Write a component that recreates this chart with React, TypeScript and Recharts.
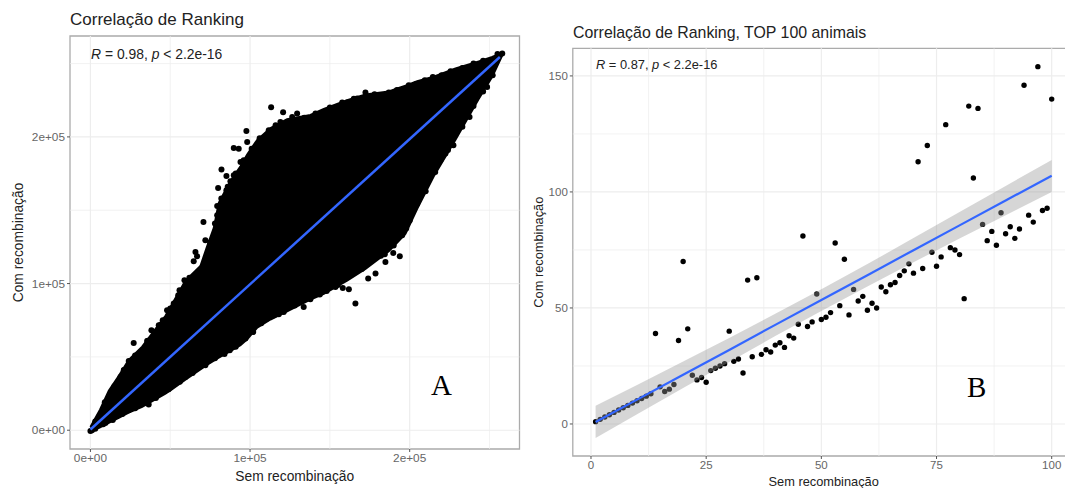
import React from "react";
import { ComposedChart, Scatter, Line, Area, XAxis, YAxis, ReferenceLine, ReferenceArea } from "recharts";

// ---- Chart A (all values in thousands of ranks) ----
const cloudX = [0,6,11.5,17.7,24,32.4,40.7,47,51.2,59.5,68.9,73,77.3,80.4,87.7,94,98.2,104.5,112.8,123.2,137.8,146.2,160.8,172.3,186.9,192.2,197.4,204.7,215,228.7,243.3,251.7,258];
const cloudLow = [-1.2,2,5,8.5,12,16,21,25,28,34.5,41.5,44.5,47.5,49.5,54,58,62,70,75.5,81,89,93,102,110,122,128,134,151,173,198,226,241,255.6];
const cloudHigh = [2.2,14,27,37,48,57,69,78,86,102,112,125,138,155,170,180,188,198,206,212,215,219,225,229,231,233,235,238,241,246.6,251.5,254.5,257.5];
const edgeDots: [number, number][] = [[27.1,59.5],[35.5,60.9],[38.2,68.2],[24,47.2],[20.9,40.9],[18.8,36.3],[13.2,25.4],[42.8,71.6],[48,81.8],[45.3,75],[55.8,95.4],[58.9,102.2],[52.2,86.4],[64.7,115.2],[66.8,118.6],[65.8,121.5],[70.8,142],[72,129.5],[36.5,17.5],[87.3,54.5],[72,44.3],[113.2,220.2],[120.7,216.8],[129.5,215.9],[126.4,213.6],[119,210.2],[97.7,204],[98.2,196.5],[89.8,192.4],[92.9,192],[82.1,177.7],[89.8,173.8],[85.2,173.4],[87.7,169.7],[80,165.2],[85.2,163.6],[79.4,152.9],[83.5,153.9],[79.4,146.6],[79.4,139.7],[94,182.9],[94,176],[104.5,194.3],[111.7,204.5],[108.6,197.7],[141,215.9],[146.2,217],[154.6,220.4],[157.7,223.4],[172.3,230.2],[167.1,226.1],[160.8,223.4],[186.9,230.2],[199.4,235.2],[209.5,238.6],[214.5,240.8],[225.6,244.7],[237.5,213.6],[227.4,194.3],[248.5,234],[222.4,188.6],[219.3,184],[207.4,162.4],[204.7,154.5],[202.6,151.1],[197.4,143.2],[197.8,137.5],[97.1,62.5],[110.7,76.1],[114.9,78.4],[121.1,80.6],[133.6,84],[137.8,89.3],[143.7,92.5],[153.5,97.7],[158.1,97],[161.9,96.1],[166,86.4],[174,103.4],[178.6,106.8],[184.8,114.7],[184.4,120],[189.7,120.9],[193.8,118.6],[195.3,132.9],[198,143.2],[167.1,110.2],[162.5,106.1],[44.9,28.4],[59.5,36.3],[53.3,31.8],[24,13.6],[9.4,5],[255,256.5],[258,256.8],[0,-0.5],[1,0]];
const upperBumps: [number, number][] = [[3,6],[9,19],[15,30],[21,41],[28,51],[36,61],[44,72],[50,83],[55,92],[62,104],[70,111],[75,128],[78,141],[82,158],[86,166],[91,175],[96,184],[101,192],[106,199],[116,208],[134,213],[150,220],[165,226],[178,229],[192,232],[204,236],[220,242],[233,247],[240,250],[246,252]];
const lowerBumps: [number, number][] = [[3,1],[8,4],[14,7],[20,11],[28,15],[41,22],[49,28],[56,33],[64,39],[78,49],[84,52],[91,57],[102,67],[107,73],[118,79],[128,85],[148,95],[155,99],[170,110],[182,119],[190,126],[200,143],[210,163],[216,176],[224,191],[233,207],[240,221],[246,231],[252,242]];
const fitA: [number, number][] = [[0,0.5],[256.5,254.5]];
const ticksA = [0, 100000, 200000];
const minorA = [50000, 150000, 250000];
const tickLabelsA = ["0e+00", "1e+05", "2e+05"];
const domainA: [number, number] = [-12800, 268800];

// ---- Chart B ----
const rankCom = [1,2,3,4,5,6,7,8,9,10,11,12,13,39,16,14,15,17,36,70,41,21,19,20,18,23,24,25,26,40,27,28,22,62,29,63,30,32,31,34,35,33,38,37,43,81,42,44,56,45,46,48,78,51,71,47,58,53,55,49,52,50,59,57,60,61,64,66,69,65,113,67,120,74,68,72,129,76,75,73,54,137,106,136,86,79,83,77,91,82,85,80,84,146,90,87,154,92,93,140];
const fitX = [1,10,20,30,40,50,60,70,80,90,100];
const fitY = [0.85,10.5,21.2,31.9,42.7,53.4,64.1,74.9,85.6,96.3,107];
const bandLow = [-6,4.2,15.5,26.7,37.9,48.7,59.3,69.7,79.9,90,100];
const bandHigh = [7.9,16.8,26.9,37.1,47.5,58.1,68.9,80.1,91.3,102.6,113.8];
const ticksBX = [0, 25, 50, 75, 100];
const ticksBY = [0, 50, 100, 150];
const minorBX = [12.5, 37.5, 62.5, 87.5];
const minorBY = [25, 75, 125];
const domainBX: [number, number] = [-3.95, 104.95];
const domainBY: [number, number] = [-13.8, 161.9];

const titleA = "Correlação de Ranking";
const titleB = "Correlação de Ranking, TOP 100 animais";
const xTitle = "Sem recombinação";
const yTitle = "Com recombinação";

const k = (v: number) => v * 1000;
const pts = (a: [number, number][]) => a.map(([x, y]) => ({ x: k(x), y: k(y) }));
const cloudRows = cloudX.map((x, i) => ({ x: k(x), band: [k(cloudLow[i]), k(cloudHigh[i])] }));
const scatterA = [...pts(edgeDots), ...pts(upperBumps), ...pts(lowerBumps)];
const fitARows = pts(fitA);
const scatterB = rankCom.map((y, i) => ({ x: i + 1, y }));
const fitRows = fitX.map((x, i) => ({ x, y: fitY[i], band: [bandLow[i], bandHigh[i]] }));

const FONT = "'Liberation Sans', Arial, sans-serif";
const GRID = "#ededed";
const BORDER = "#ababab";
const tickA = { fontSize: 11.8, fill: "#666", fontFamily: FONT };
const tickB = { fontSize: 11.5, fill: "#666", fontFamily: FONT };
const labelA = { fontSize: 13.8, fill: "#222", fontFamily: FONT };
const labelB = { fontSize: 12.8, fill: "#222", fontFamily: FONT };
const dot = (r: number) => (p: any) => <circle cx={p.cx} cy={p.cy} r={r} fill="#000" />;

const textAt = (left: number, top: number, size: number): React.CSSProperties => ({
  position: "absolute", left, top, fontSize: size, lineHeight: "16px", fontFamily: FONT, color: "#222", whiteSpace: "nowrap",
});

export default function App() {
  return (
    <div style={{ position: "absolute", left: 0, top: 0, width: 1065, height: 488, overflow: "hidden", background: "#fff" }}>
      <div style={{ position: "absolute", left: 0, top: 0 }}>
        <ComposedChart width={530} height={488} margin={{ top: 36, right: 10.5, bottom: 0, left: 0 }} data={cloudRows}>
          <XAxis type="number" dataKey="x" domain={domainA} ticks={ticksA} interval={0} height={39}
            tickFormatter={(v: number) => tickLabelsA[ticksA.indexOf(v)]} tick={tickA}
            tickSize={3} tickLine={{ stroke: "#555" }} axisLine={false}
            label={{ value: xTitle, position: "insideBottom", offset: 7, style: labelA }} />
          <YAxis type="number" dataKey="y" domain={domainA} ticks={ticksA} interval={0} width={70}
            tickFormatter={(v: number) => tickLabelsA[ticksA.indexOf(v)]} tick={tickA}
            tickSize={3} tickLine={{ stroke: "#555" }} axisLine={false}
            label={{ value: yTitle, angle: -90, position: "insideLeft", offset: 18, style: { ...labelA, textAnchor: "middle" } }} />
          {minorA.map((v) => <ReferenceLine key={"mx" + v} x={v} stroke={GRID} strokeWidth={0.7} />)}
          {minorA.map((v) => <ReferenceLine key={"my" + v} y={v} stroke={GRID} strokeWidth={0.7} />)}
          {ticksA.map((v) => <ReferenceLine key={"Mx" + v} x={v} stroke={GRID} strokeWidth={1.2} />)}
          {ticksA.map((v) => <ReferenceLine key={"My" + v} y={v} stroke={GRID} strokeWidth={1.2} />)}
          <Area dataKey="band" data={cloudRows} stroke="#000" strokeWidth={2} fill="#000" fillOpacity={1} dot={false} activeDot={false} isAnimationActive={false} {...({ zIndex: 500 } as any)} />
          <Scatter data={scatterA} dataKey="y" shape={dot(3)} isAnimationActive={false} {...({ zIndex: 510 } as any)} />
          <Line data={fitARows} dataKey="y" stroke="#3366ff" strokeWidth={2.5} dot={false} activeDot={false} isAnimationActive={false} {...({ zIndex: 520 } as any)} />
          <ReferenceArea x1={domainA[0]} x2={domainA[1]} y1={domainA[0]} y2={domainA[1]} fill="none" stroke={BORDER} strokeWidth={1.3} />
        </ComposedChart>
      </div>

      <div style={{ position: "absolute", left: 530, top: 0 }}>
        <ComposedChart width={545} height={488} margin={{ top: 48.3, right: 0.5, bottom: 0, left: 0 }} data={scatterB}>
          <XAxis type="number" dataKey="x" domain={domainBX} ticks={ticksBX} interval={0} height={32}
            tick={tickB} tickSize={3} tickLine={{ stroke: "#555" }} axisLine={false}
            label={{ value: xTitle, position: "insideBottom", offset: 2, style: labelB }} />
          <YAxis type="number" dataKey="y" domain={domainBY} ticks={ticksBY} interval={0} width={42.8}
            tick={tickB} tickSize={3} tickLine={{ stroke: "#555" }} axisLine={false}
            label={{ value: yTitle, angle: -90, position: "insideLeft", offset: 8, style: { ...labelB, textAnchor: "middle" } }} />
          {minorBX.map((v) => <ReferenceLine key={"mx" + v} x={v} stroke={GRID} strokeWidth={0.7} />)}
          {minorBY.map((v) => <ReferenceLine key={"my" + v} y={v} stroke={GRID} strokeWidth={0.7} />)}
          {ticksBX.map((v) => <ReferenceLine key={"Mx" + v} x={v} stroke={GRID} strokeWidth={1.2} />)}
          {ticksBY.map((v) => <ReferenceLine key={"My" + v} y={v} stroke={GRID} strokeWidth={1.2} />)}
          <Scatter data={scatterB} dataKey="y" shape={dot(2.7)} isAnimationActive={false} {...({ zIndex: 500 } as any)} />
          <Area data={fitRows} dataKey="band" stroke="none" fill="#999999" fillOpacity={0.4} dot={false} activeDot={false} isAnimationActive={false} {...({ zIndex: 510 } as any)} />
          <Line data={fitRows} dataKey="y" stroke="#3366ff" strokeWidth={2.2} dot={false} activeDot={false} isAnimationActive={false} {...({ zIndex: 520 } as any)} />
          <ReferenceArea x1={domainBX[0]} x2={domainBX[1]} y1={domainBY[0]} y2={domainBY[1]} fill="none" stroke={BORDER} strokeWidth={1.3} />
        </ComposedChart>
      </div>

      <div style={textAt(70, 12, 17)}>{titleA}</div>
      <div style={textAt(573, 25, 15.9)}>{titleB}</div>
      <div style={textAt(91, 46, 13.9)}><i>R</i> = 0.98, <i>p</i> &lt; 2.2e-16</div>
      <div style={textAt(596, 57, 12.85)}><i>R</i> = 0.87, <i>p</i> &lt; 2.2e-16</div>
      <div style={{ ...textAt(431, 370, 29), fontFamily: "'Liberation Serif', serif", color: "#000", lineHeight: "30px" }}>A</div>
      <div style={{ ...textAt(967, 372, 29), fontFamily: "'Liberation Serif', serif", color: "#000", lineHeight: "30px" }}>B</div>
    </div>
  );
}
